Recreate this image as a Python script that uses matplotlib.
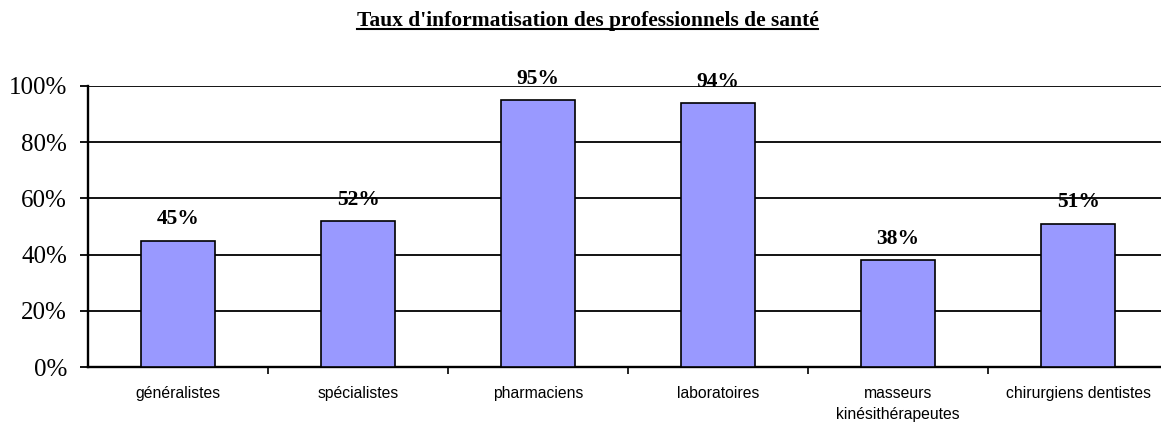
import matplotlib.pyplot as plt
from matplotlib.lines import Line2D
from matplotlib.ticker import FixedLocator

# data
categories = ['généralistes', 'spécialistes', 'pharmaciens', 'laboratoires',
              'masseurs\nkinésithérapeutes', 'chirurgiens dentistes']
values = [45, 52, 95, 94, 38, 51]
yticks = [0, 20, 40, 60, 80, 100]

fig = plt.figure(figsize=(11.61, 4.24), dpi=100)
ax = fig.add_axes([88 / 1161, 57 / 424, 1 - 88 / 1161, 281 / 424])

x = list(range(len(categories)))
ax.bar(x, values, width=0.41, color='#9999FF', edgecolor='black', linewidth=1.2, zorder=3)

for xi, v in zip(x, values):
    ax.text(xi, v + 4, f'{v}%', ha='center', va='bottom', fontsize=15.5,
            fontweight='bold', family='Liberation Serif', zorder=4)

ax.set_ylim(0, 100)
ax.set_xlim(-0.5, 5.46)
ax.set_yticks(yticks)
ax.set_yticklabels([f'{t}%' for t in yticks], family='Liberation Serif', fontsize=18)
ax.yaxis.grid(True, color='black', linewidth=1.3, zorder=0)
ax.tick_params(axis='y', length=6, width=1.3, pad=9)

ax.set_xticks(x)
ax.set_xticklabels(categories, family='Liberation Sans', fontsize=11.3, linespacing=1.45)
ax.tick_params(axis='x', which='major', length=0, pad=14)
ax.xaxis.set_minor_locator(FixedLocator([0.5, 1.5, 2.5, 3.5, 4.5]))
ax.tick_params(axis='x', which='minor', length=5, width=1.2, direction='out')

for s in ['top', 'right']:
    ax.spines[s].set_visible(False)
ax.spines['left'].set_linewidth(1.7)
ax.spines['bottom'].set_linewidth(1.7)
ax.set_axisbelow(True)

# underlined title
title = fig.text(0.506, 1 - 21 / 424, "Taux d'informatisation des professionnels de santé",
                 ha='center', va='center', fontsize=15.5, fontweight='bold',
                 family='Liberation Serif')
fig.canvas.draw()
bb = title.get_window_extent().transformed(fig.transFigure.inverted())
uy = bb.y0 + 0.005
fig.add_artist(Line2D([bb.x0, bb.x1], [uy, uy], color='black', linewidth=1.5,
                      transform=fig.transFigure))

fig.savefig('out.png', dpi=100)
